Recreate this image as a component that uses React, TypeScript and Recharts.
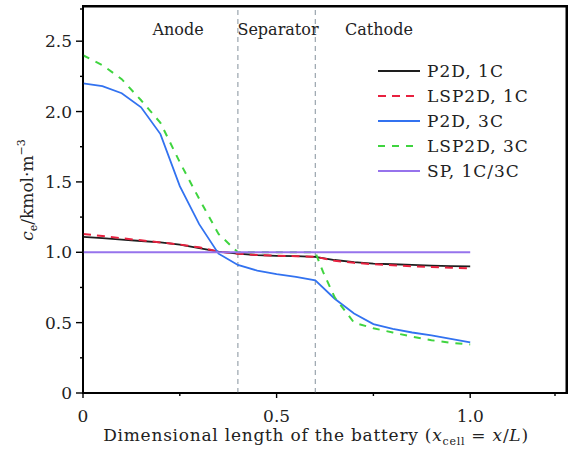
import { LineChart, Line, XAxis, YAxis, ReferenceLine, ReferenceArea } from "recharts";

const FONT = "'DejaVu Serif', serif";

// positions along the cell (dimensionless)
const xGrid = [0, 0.05, 0.1, 0.15, 0.2, 0.25, 0.3, 0.35, 0.4, 0.45, 0.5, 0.55, 0.6, 0.65, 0.7, 0.75, 0.8, 0.85, 0.9, 0.95, 1.0];

// electrolyte concentration, kmol/m^3
const p2d1C = [1.11, 1.1, 1.09, 1.08, 1.07, 1.055, 1.03, 1.005, 0.99, 0.98, 0.975, 0.972, 0.968, 0.945, 0.93, 0.92, 0.915, 0.91, 0.905, 0.902, 0.9];
const lsp2d1C = [1.13, 1.115, 1.1, 1.085, 1.07, 1.055, 1.035, 1.005, 0.99, 0.98, 0.975, 0.972, 0.968, 0.94, 0.925, 0.915, 0.908, 0.9, 0.895, 0.89, 0.885];
const p2d3C = [2.2, 2.18, 2.13, 2.03, 1.84, 1.47, 1.2, 0.99, 0.91, 0.87, 0.845, 0.825, 0.8, 0.67, 0.565, 0.49, 0.455, 0.43, 0.41, 0.385, 0.36];
const lsp2d3CX = [0, 0.05, 0.1, 0.15, 0.2, 0.25, 0.3, 0.35, 0.4, 0.45, 0.5, 0.55, 0.6, 0.62, 0.65, 0.7, 0.75, 0.8, 0.85, 0.9, 0.95, 1.0];
const lsp2d3C = [2.4, 2.33, 2.23, 2.08, 1.92, 1.64, 1.38, 1.13, 1.0, 1.0, 1.0, 1.0, 1.0, 0.86, 0.68, 0.5, 0.46, 0.43, 0.4, 0.375, 0.357, 0.345];
const spX = [0, 1.0];
const sp = [1.0, 1.0];

const xTicks = [0, 0.25, 0.5, 0.75, 1.0, 1.25];
const xLabels = [0, 0.5, 1.0];
const yTicks = [0, 0.25, 0.5, 0.75, 1.0, 1.25, 1.5, 1.75, 2.0, 2.25, 2.5, 2.75];
const yLabels = [0, 0.5, 1.0, 1.5, 2.0, 2.5];
const regionBounds = [0.4, 0.6];
const regionNames = ["Anode", "Separator", "Cathode"];

const series = [
  { name: "P2D, 1C", color: "#1e1e1e", dash: undefined, width: 1.8, xs: xGrid, ys: p2d1C },
  { name: "LSP2D, 1C", color: "#e8213f", dash: "8 6", width: 2, xs: xGrid, ys: lsp2d1C },
  { name: "P2D, 3C", color: "#3272f0", dash: undefined, width: 1.8, xs: xGrid, ys: p2d3C },
  { name: "LSP2D, 3C", color: "#3fd43f", dash: "7 7", width: 2, xs: lsp2d3CX, ys: lsp2d3C },
  { name: "SP, 1C/3C", color: "#9673ec", dash: undefined, width: 2, xs: spX, ys: sp },
];

// chart box
const W = 569;
const H = 453;
const M = { top: 6, right: 2, left: 0, bottom: 0 };
const Y_AXIS_W = 83;
const X_AXIS_H = 60;

const fmt = (v: number) => (v === 0 ? "0" : v.toFixed(1));

const XTick = ({ x, y, payload }: any) => {
  const major = xLabels.includes(payload.value);
  return (
    <g>
      <line x1={x} x2={x} y1={y} y2={y + (major ? 5 : 3)} stroke="#000" strokeWidth={1.4} />
      {major && (
        <text x={x} y={y + 29} textAnchor="middle" fontFamily={FONT} fontSize={17} fill="#222">
          {fmt(payload.value)}
        </text>
      )}
    </g>
  );
};

const YTick = ({ x, y, payload }: any) => {
  const major = yLabels.includes(payload.value);
  return (
    <g>
      <line x1={x} x2={x - (major ? 7 : 3)} y1={y} y2={y} stroke="#000" strokeWidth={1.4} />
      {major && (
        <text x={x - 11} y={y + 6} textAnchor="end" fontFamily={FONT} fontSize={17} fill="#222">
          {fmt(payload.value)}
        </text>
      )}
    </g>
  );
};

const LegendBox = () => (
  <div style={{ position: "absolute", left: 378, top: 59, fontFamily: FONT, fontSize: 17, color: "#222" }}>
    {series.map((s) => (
      <div key={s.name} style={{ display: "flex", alignItems: "center", height: 24.8 }}>
        <svg width={44} height={10}>
          <line x1={0} x2={42} y1={5} y2={5} stroke={s.color} strokeWidth={2} strokeDasharray={s.dash} />
        </svg>
        <span style={{ marginLeft: 5, letterSpacing: 1, whiteSpace: "nowrap" }}>{s.name}</span>
      </div>
    ))}
  </div>
);

const frameLine = { stroke: "#000", strokeWidth: 1.6 };

export default function App() {
  const plotLeft = M.left + Y_AXIS_W;
  const plotRight = W - M.right;
  const plotTop = M.top;
  const plotBottom = H - M.bottom - X_AXIS_H;
  return (
    <div style={{ position: "absolute", left: 0, top: 0, width: W, height: H, background: "#fff" }}>
      <LineChart width={W} height={H} margin={M}>
        <XAxis
          type="number"
          dataKey="x"
          domain={[0, 1.25]}
          ticks={xTicks}
          allowDataOverflow
          height={X_AXIS_H}
          tickSize={0}
          tickMargin={0}
          tickLine={false}
          tick={<XTick />}
          axisLine={frameLine}
        />
        <YAxis
          type="number"
          domain={[0, 2.75]}
          ticks={yTicks}
          allowDataOverflow
          width={Y_AXIS_W}
          tickSize={0}
          tickMargin={0}
          tickLine={false}
          tick={<YTick />}
          axisLine={frameLine}
        />
        {/* box outline */}
        <ReferenceArea
          x1={0}
          x2={1.25}
          y1={0}
          y2={2.75}
          ifOverflow="visible"
          fill="#ffffff"
          fillOpacity={0}
          stroke="#000000"
          strokeWidth={2}
        />
        {regionBounds.map((b) => (
          <ReferenceLine key={b} x={b} stroke="#9aa4ad" strokeWidth={1.2} strokeDasharray="5 4" />
        ))}
        {series.map((s) => (
          <Line
            key={s.name}
            name={s.name}
            data={s.xs.map((x, i) => ({ x, v: s.ys[i] }))}
            dataKey="v"
            type="linear"
            stroke={s.color}
            strokeWidth={s.width}
            strokeDasharray={s.dash}
            dot={false}
            activeDot={false}
            isAnimationActive={false}
          />
        ))}
      </LineChart>
      <LegendBox />
      <svg width={W} height={H} style={{ position: "absolute", left: 0, top: 0, pointerEvents: "none" }}>
        {/* top and right edges, drawn again over the chart */}
        <line x1={plotLeft} x2={plotRight} y1={plotTop + 0.5} y2={plotTop + 0.5} stroke="#000" strokeWidth={2} />
        <line x1={plotRight - 0.5} x2={plotRight - 0.5} y1={plotTop} y2={plotBottom} stroke="#000" strokeWidth={2} />
        <g fontFamily={FONT} fontSize={16} fill="#222" textAnchor="middle">
          <text x={178} y={35}>{regionNames[0]}</text>
          <text x={278} y={35}>{regionNames[1]}</text>
          <text x={379} y={35}>{regionNames[2]}</text>
        </g>
        <text transform="translate(33,190) rotate(-90)" textAnchor="middle" fontFamily={FONT} fontSize={17} fill="#222">
          <tspan fontStyle="italic">c</tspan>
          <tspan fontSize={11} dy={4}>e</tspan>
          <tspan dy={-4}>/kmol·m</tspan>
          <tspan fontSize={11} dy={-8}>−3</tspan>
        </text>
        <text x={316} y={441} textAnchor="middle" fontFamily={FONT} fontSize={17} fill="#222" letterSpacing={0.75}>
          Dimensional length of the battery (
          <tspan fontStyle="italic">x</tspan>
          <tspan fontSize={11} dy={4}>cell</tspan>
          <tspan dy={-4}> = </tspan>
          <tspan fontStyle="italic">x</tspan>/<tspan fontStyle="italic">L</tspan>)
        </text>
      </svg>
    </div>
  );
}
